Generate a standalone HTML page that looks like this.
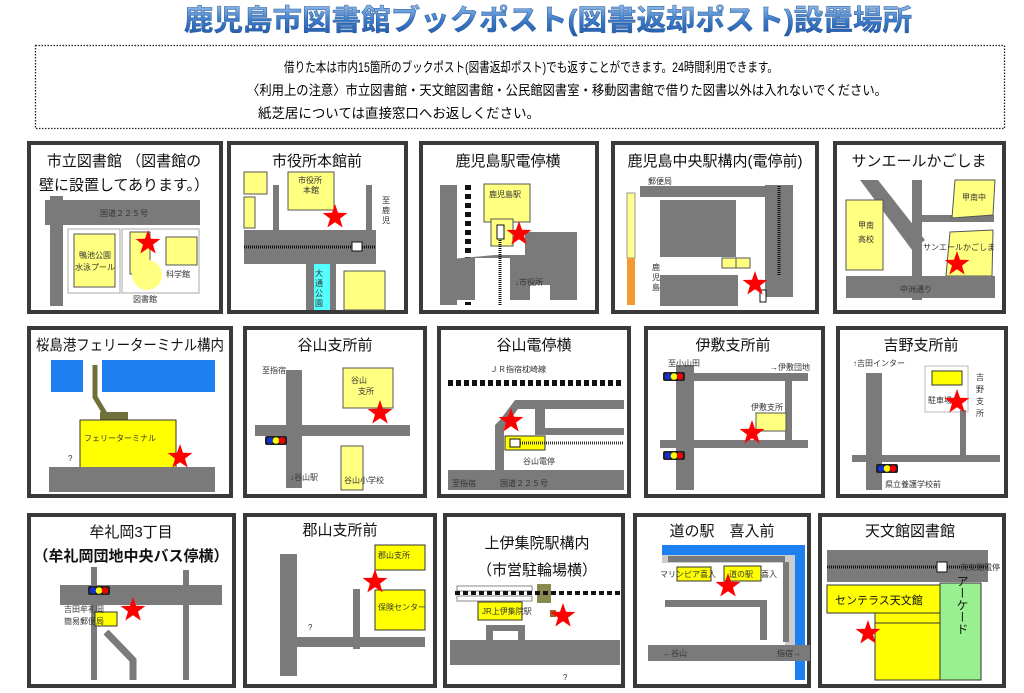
<!DOCTYPE html>
<html><head><meta charset="utf-8"><style>
html,body{margin:0;padding:0;background:#fff;width:1024px;height:693px;overflow:hidden}
svg{display:block}
text{font-family:"Liberation Sans","Noto Sans CJK JP",sans-serif;}
.t{font-size:15px;fill:#111;text-anchor:middle}
.s{font-size:8px;fill:#333}
.g{fill:#7a7a7a}
.y{fill:#ffff80;stroke:#555;stroke-width:1}
.Y{fill:#ffff00;stroke:#333;stroke-width:1}
.b{fill:#fff;stroke:#3a3a3a;stroke-width:4}
</style></head><body>
<svg width="1024" height="693" viewBox="0 0 1024 693" xmlns="http://www.w3.org/2000/svg">
<defs>
<linearGradient id="tg" x1="0" y1="0" x2="0" y2="1"><stop offset="0" stop-color="#9cc4ec"/><stop offset="0.5" stop-color="#3d7cc9"/><stop offset="1" stop-color="#1f56a8"/></linearGradient>
<polygon id="st" fill="#f00" points="0,-13 3,-4.2 12.4,-4 5,1.6 7.7,10.5 0,5.2 -7.7,10.5 -5,1.6 -12.4,-4 -3,-4.2"/>
<g id="tl"><rect x="0" y="0" width="22" height="9" rx="2" fill="#222"/><circle cx="5" cy="4.5" r="3.3" fill="#1030d0"/><circle cx="11" cy="4.5" r="3.3" fill="#ff0"/><circle cx="17" cy="4.5" r="3.3" fill="#e00"/></g>
</defs>

<text x="548" y="30" font-size="29" font-weight="bold" fill="url(#tg)" stroke="#2a5a9a" stroke-width="0.5" text-anchor="middle" textLength="728" lengthAdjust="spacingAndGlyphs">鹿児島市図書館ブックポスト(図書返却ポスト)設置場所</text>

<rect x="35.5" y="45.5" width="969" height="83" fill="none" stroke="#222" stroke-width="1.3" stroke-dasharray="1.5,1.5"/>
<text x="284" y="72" font-size="13.5" textLength="494" lengthAdjust="spacingAndGlyphs">借りた本は市内15箇所のブックポスト(図書返却ポスト)でも返すことができます。24時間利用できます。</text>
<text x="247" y="95" font-size="13.5" textLength="640" lengthAdjust="spacingAndGlyphs">〈利用上の注意〉市立図書館・天文館図書館・公民館図書室・移動図書館で借りた図書以外は入れないでください。</text>
<text x="258" y="118" font-size="13.5" textLength="282" lengthAdjust="spacingAndGlyphs">紙芝居については直接窓口へお返しください。</text>

<!-- Row 1 -->
<rect class="b" x="29" y="143" width="192" height="169"/>
<text class="t" x="124" y="166">市立図書館 （図書館の</text>
<text class="t" x="124" y="190">壁に設置してあります。）</text>
<rect class="g" x="45" y="200" width="155" height="25"/>
<rect class="g" x="50" y="196" width="13" height="110"/>
<text class="s" x="100" y="216" font-size="10">国道２２５号</text>
<rect x="68" y="229" width="52" height="64" fill="none" stroke="#aaa"/>
<rect x="122" y="229" width="77" height="64" fill="none" stroke="#aaa"/>
<rect class="y" x="74" y="234" width="41" height="53"/>
<text class="s" x="79" y="258">鴨池公園</text><text class="s" x="75" y="270">水泳プール</text>
<rect class="y" x="130" y="232" width="20" height="42" stroke="none"/>
<circle cx="147" cy="275" r="15" fill="#ffff80"/>
<rect class="y" x="166" y="237" width="31" height="28"/>
<text class="s" x="166" y="277">科学館</text>
<text class="s" x="133" y="302">図書館</text>
<use href="#st" x="148" y="243"/>

<rect class="b" x="229" y="143" width="177" height="169"/>
<text class="t" x="317" y="166">市役所本館前</text>
<rect class="y" x="244" y="172" width="23" height="22"/>
<rect class="y" x="244" y="197" width="11" height="31"/>
<rect class="y" x="288" y="172" width="46" height="38"/>
<text class="s" x="298" y="183">市役所</text><text class="s" x="303" y="193">本館</text>
<rect class="g" x="273" y="185" width="6" height="46"/>
<rect class="g" x="366" y="185" width="6" height="46"/>
<rect class="g" x="244" y="230" width="132" height="34"/>
<line x1="244" y1="247" x2="376" y2="247" stroke="#111" stroke-width="3" stroke-dasharray="1,1"/>
<rect x="352" y="242" width="10" height="9" fill="#fff" stroke="#111"/>
<text class="s" x="382" y="203">至</text><text class="s" x="382" y="213">鹿</text><text class="s" x="382" y="223">児</text>
<rect class="g" x="306" y="264" width="30" height="46"/>
<rect x="314" y="264" width="16" height="46" fill="#5ff"/>
<text class="s" x="315" y="276">大</text><text class="s" x="315" y="286">通</text><text class="s" x="315" y="296">公</text><text class="s" x="315" y="306">園</text>
<rect class="y" x="344" y="271" width="41" height="39"/>
<use href="#st" x="335" y="217"/>

<rect class="b" x="421" y="143" width="176" height="169"/>
<text class="t" x="508" y="166">鹿児島駅電停横</text>
<rect class="g" x="440" y="185" width="17" height="120"/>
<line x1="468" y1="185" x2="468" y2="305" stroke="#111" stroke-width="6" stroke-dasharray="5,4"/>
<rect class="y" x="484" y="184" width="46" height="38"/>
<text class="s" x="489" y="197">鹿児島駅</text>
<path class="g" d="M525 232 L577 232 L577 300 L550 300 L550 285 L530 285 L530 300 L510 300 L510 258 L475 258 L475 300 L440 300 L440 260 L495 255 L525 255 Z"/>
<rect class="y" x="491" y="219" width="22" height="27"/>
<rect x="497" y="225" width="7" height="14" fill="#fff" stroke="#111"/>
<line x1="500" y1="240" x2="500" y2="305" stroke="#111" stroke-width="3" stroke-dasharray="1,1"/>
<text class="s" x="515" y="285" fill="#fff">↓市役所</text>
<use href="#st" x="519" y="234"/>

<rect class="b" x="613" y="143" width="204" height="169"/>
<text class="t" x="715" y="166">鹿児島中央駅構内(電停前)</text>
<rect x="627" y="193" width="8" height="65" fill="#ffff90" stroke="#999"/>
<rect x="627" y="258" width="8" height="47" fill="#f39a30"/>
<rect class="g" x="640" y="186" width="130" height="11"/>
<rect class="g" x="765" y="185" width="28" height="112"/>
<line x1="779" y1="186" x2="779" y2="275" stroke="#111" stroke-width="3" stroke-dasharray="1,1"/>
<rect class="g" x="660" y="200" width="76" height="57"/>
<rect class="g" x="660" y="275" width="78" height="31"/>
<rect class="y" x="722" y="258" width="14" height="10"/><rect class="y" x="736" y="258" width="14" height="10"/>
<text class="s" x="648" y="184">郵便局</text>
<text class="s" x="652" y="270">鹿</text><text class="s" x="652" y="280">児</text><text class="s" x="652" y="290">島</text>
<rect x="760" y="290" width="6" height="12" fill="#fff" stroke="#111"/>
<use href="#st" x="755" y="284"/>

<rect class="b" x="835" y="143" width="169" height="169"/>
<text class="t" x="919" y="166">サンエールかごしま</text>
<polygon class="g" points="860,180 878,180 925,240 912,250"/>
<rect class="g" x="912" y="180" width="10" height="120"/>
<rect class="g" x="922" y="215" width="72" height="7"/>
<rect class="y" x="846" y="200" width="37" height="70"/>
<text class="s" x="858" y="228">甲南</text><text class="s" x="858" y="242">高校</text>
<polygon class="y" points="955,180 995,180 993,215 952,218"/>
<text class="s" x="962" y="200">甲南中</text>
<polygon class="y" points="950,232 993,230 992,276 946,276"/>
<text class="s" x="923" y="250">サンエールかごしま</text>
<rect class="g" x="846" y="276" width="149" height="22"/>
<text class="s" x="900" y="292" font-size="10">中洲通り</text>
<use href="#st" x="957" y="264"/>

<!-- Row 2 -->
<rect class="b" x="29" y="328" width="202" height="168"/>
<text class="t" x="130" y="350" textLength="188" lengthAdjust="spacingAndGlyphs">桜島港フェリーターミナル構内</text>
<rect x="51" y="360" width="32" height="32" fill="#1e80f0"/>
<rect x="102" y="360" width="113" height="32" fill="#1e80f0"/>
<polyline points="95,365 95,397 104,412 104,422 125,422" fill="none" stroke="#70703a" stroke-width="5"/>
<rect x="100" y="412" width="28" height="8" fill="#70703a"/>
<rect class="Y" x="80" y="420" width="96" height="48"/>
<text class="s" x="84" y="441">フェリーターミナル</text>
<text class="s" x="68" y="461" fill="#33c">?</text>
<rect class="g" x="49" y="467" width="166" height="25"/>
<use href="#st" x="180" y="457"/>

<rect class="b" x="245" y="328" width="180" height="168"/>
<text class="t" x="335" y="350">谷山支所前</text>
<rect class="g" x="286" y="370" width="16" height="118"/>
<rect class="g" x="255" y="425" width="155" height="11"/>
<rect class="y" x="343" y="368" width="50" height="40"/>
<text class="s" x="351" y="383">谷山</text><text class="s" x="358" y="394">支所</text>
<rect class="y" x="341" y="446" width="22" height="44"/>
<text class="s" x="344" y="483">谷山小学校</text>
<use href="#tl" x="265" y="436"/>
<text class="s" x="262" y="373">至指宿</text>
<text class="s" x="290" y="480">↓谷山駅</text>
<use href="#st" x="380" y="413"/>

<rect class="b" x="439" y="328" width="190" height="168"/>
<text class="t" x="534" y="350">谷山電停横</text>
<text class="s" x="490" y="372">ＪＲ指宿枕崎線</text>
<line x1="448" y1="383" x2="624" y2="383" stroke="#111" stroke-width="6" stroke-dasharray="5,3"/>
<path class="g" d="M500 420 L515 400 L624 400 L624 409 L545 409 L545 428 L624 428 L624 435 L535 435 L535 409 L518 409 L504 428 L504 470 L495 470 L495 425 Z"/>
<rect class="Y" x="505" y="436" width="40" height="14"/>
<rect x="510" y="439" width="10" height="8" fill="#fff" stroke="#111"/>
<line x1="520" y1="443" x2="624" y2="443" stroke="#333" stroke-width="3" stroke-dasharray="1,1"/>
<text class="s" x="523" y="464">谷山電停</text>
<rect class="g" x="448" y="470" width="176" height="20"/>
<text class="s" x="452" y="486" fill="#222">至指宿</text><text class="s" x="500" y="486" fill="#222">国道２２５号</text>
<use href="#st" x="511" y="421"/>

<rect class="b" x="646" y="328" width="177" height="168"/>
<text class="t" x="733" y="350">伊敷支所前</text>
<rect class="g" x="676" y="365" width="18" height="125"/>
<rect class="g" x="694" y="373" width="114" height="8"/>
<rect class="g" x="785" y="373" width="7" height="68"/>
<rect class="g" x="660" y="440" width="148" height="8"/>
<rect class="y" x="756" y="413" width="30" height="18"/>
<text class="s" x="751" y="410">伊敷支所</text>
<text class="s" x="668" y="366">至小山田</text>
<text class="s" x="770" y="370">→伊敷団地</text>
<use href="#tl" x="663" y="372"/>
<use href="#tl" x="663" y="451"/>
<use href="#st" x="752" y="433"/>

<rect class="b" x="838" y="328" width="168" height="168"/>
<text class="t" x="921" y="350">吉野支所前</text>
<text class="s" x="853" y="366">↑吉田インター</text>
<rect class="g" x="866" y="373" width="16" height="117"/>
<rect class="g" x="852" y="455" width="148" height="7"/>
<rect x="925" y="366" width="43" height="46" fill="#fff" stroke="#bbb"/>
<rect class="Y" x="932" y="371" width="30" height="14"/>
<text class="s" x="928" y="403">駐車場</text>
<rect class="g" x="960" y="410" width="6" height="48"/>
<text class="s" x="976" y="380">吉</text><text class="s" x="976" y="392">野</text><text class="s" x="976" y="404">支</text><text class="s" x="976" y="416">所</text>
<use href="#tl" x="876" y="464"/>
<text class="s" x="885" y="487">県立養護学校前</text>
<use href="#st" x="957" y="402"/>

<!-- Row 3 -->
<rect class="b" x="29" y="515" width="205" height="171"/>
<text class="t" x="131" y="537">牟礼岡3丁目</text>
<text class="t" x="131" y="561" font-weight="bold">（牟礼岡団地中央バス停横）</text>
<rect class="g" x="91" y="567" width="6" height="113"/>
<rect class="g" x="183" y="570" width="6" height="110"/>
<rect class="g" x="60" y="585" width="162" height="20"/>
<use href="#tl" x="88" y="586"/>
<polyline points="106,632 133,660 133,680" fill="none" stroke="#7a7a7a" stroke-width="7"/>
<rect class="Y" x="95" y="612" width="22" height="14"/>
<text class="s" x="64" y="612">吉田牟礼岡</text><text class="s" x="64" y="624">簡易郵便局</text>
<use href="#st" x="133" y="610"/>

<rect class="b" x="245" y="515" width="190" height="171"/>
<text class="t" x="340" y="535">郡山支所前</text>
<rect class="g" x="280" y="554" width="17" height="122"/>
<rect class="g" x="297" y="637" width="128" height="10"/>
<rect class="g" x="353" y="589" width="7" height="60"/>
<rect class="Y" x="375" y="545" width="50" height="25"/>
<text class="s" x="378" y="558">郡山支所</text>
<rect class="Y" x="375" y="590" width="50" height="40"/>
<text class="s" x="378" y="610">保険センター</text>
<text class="s" x="308" y="630" fill="#33c">?</text>
<use href="#st" x="375" y="582"/>

<rect class="b" x="445" y="515" width="178" height="171"/>
<text class="t" x="537" y="548">上伊集院駅構内</text>
<text class="t" x="537" y="575">（市営駐輪場横）</text>
<rect x="457" y="586" width="75" height="5" fill="#fff" stroke="#888"/>
<rect x="457" y="596" width="75" height="5" fill="#fff" stroke="#888"/>
<rect x="537" y="584" width="14" height="19" fill="#8a8a50"/>
<line x1="455" y1="593" x2="620" y2="593" stroke="#111" stroke-width="4" stroke-dasharray="5,3"/>
<rect class="Y" x="478" y="602" width="44" height="18"/>
<text class="s" x="482" y="614" font-size="7">JR上伊集院駅</text>
<rect x="550" y="610" width="6" height="7" fill="#a0602a"/>
<path class="g" d="M450 640 L486 640 L486 625 L525 625 L525 640 L620 640 L620 665 L450 665 Z"/>
<rect x="493" y="631" width="25" height="9" fill="#fff"/>
<text class="s" x="563" y="680" fill="#33c">?</text>
<use href="#st" x="563" y="616"/>

<rect class="b" x="635" y="515" width="174" height="171"/>
<text class="t" x="722" y="536">道の駅　喜入前</text>
<rect x="662" y="545" width="143" height="10" fill="#1e80f0"/>
<rect x="795" y="545" width="10" height="135" fill="#1e80f0"/>
<rect x="662" y="555" width="133" height="8" fill="#ccc"/>
<rect x="785" y="555" width="10" height="90" fill="#ccc"/>
<rect class="g" x="668" y="556" width="117" height="6"/>
<rect class="g" x="783" y="562" width="6" height="80"/>
<rect class="Y" x="677" y="567" width="34" height="14"/>
<text class="s" x="660" y="577" font-size="7">マリンピア喜入</text>
<rect class="Y" x="724" y="566" width="37" height="15"/>
<text class="s" x="729" y="577" font-size="7">道の駅　喜入</text>
<rect class="g" x="665" y="600" width="102" height="7"/>
<rect class="g" x="760" y="600" width="7" height="40"/>
<rect class="g" x="648" y="645" width="162" height="16"/>
<text class="s" x="663" y="656" fill="#eee" font-size="6">←谷山</text><text class="s" x="777" y="656" fill="#eee" font-size="6">指宿→</text>
<use href="#st" x="728" y="586"/>

<rect class="b" x="820" y="515" width="184" height="171"/>
<text class="t" x="910" y="536">天文館図書館</text>
<rect class="g" x="827" y="550" width="161" height="32"/>
<line x1="827" y1="567" x2="988" y2="567" stroke="#111" stroke-width="3" stroke-dasharray="1,1"/>
<rect x="937" y="562" width="10" height="10" fill="#fff" stroke="#111"/>
<text class="s" x="960" y="570" fill="#222">天文館電停</text>
<rect x="940" y="583" width="41" height="97" fill="#99f090" stroke="#333"/>
<rect class="Y" x="875" y="612" width="65" height="68"/>
<line x1="875" y1="623" x2="940" y2="623" stroke="#333"/>
<rect class="Y" x="827" y="585" width="113" height="28"/>
<text x="835" y="604" font-size="11" fill="#111">センテラス天文館</text>
<text x="962" y="605" font-size="12" fill="#111" text-anchor="middle" writing-mode="tb">アーケード</text>
<use href="#st" x="868" y="633"/>
</svg>
</body></html>
